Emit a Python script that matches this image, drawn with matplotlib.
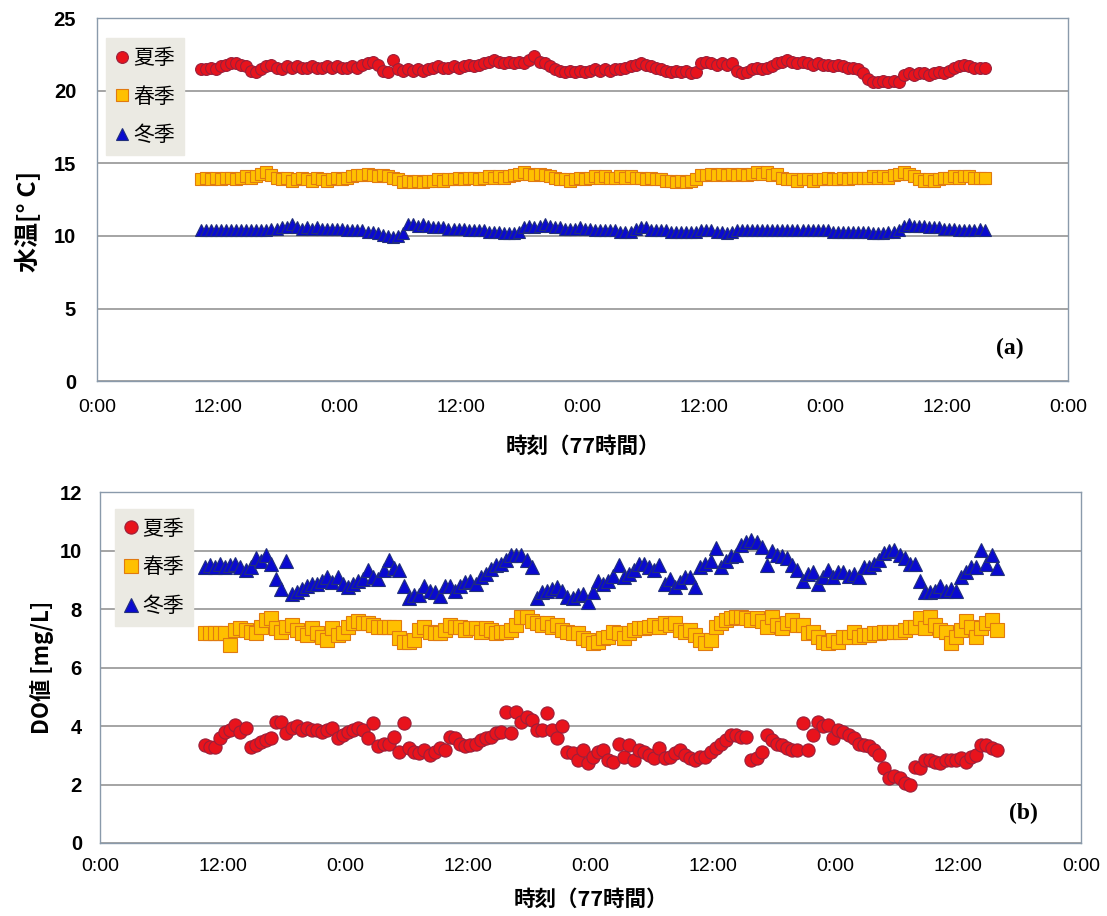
import numpy as np
import matplotlib
matplotlib.use("Agg")
import matplotlib.pyplot as plt

# Sampling: one reading every 30 minutes, starting 10:15 on day 1
START_HOUR = 10.25
STEP_HOUR = 0.5

# Water temperature [deg C]
temp_summer = [
    21.5, 21.5, 21.6, 21.5, 21.7,
    21.8, 21.9, 21.9, 21.8, 21.7,
    21.4, 21.3, 21.5, 21.7,
    21.8, 21.6, 21.5, 21.7,
    21.6, 21.7, 21.6, 21.6, 21.7, 21.6, 21.6, 21.7, 21.6, 21.7, 21.6, 21.6, 21.7, 21.6,
    21.8, 21.9, 22.0, 21.8,
    21.4, 21.3, 22.1, 21.5,
    21.4, 21.5, 21.4, 21.5, 21.4, 21.5,
    21.6, 21.7, 21.6, 21.6, 21.7, 21.6, 21.7, 21.8, 21.7, 21.8,
    21.9, 22.0, 22.1, 22.0, 21.9, 22.0, 21.9, 22.0, 21.9, 22.1,
    22.4, 22.0, 21.9, 21.7, 21.5, 21.4,
    21.3, 21.4, 21.3, 21.4, 21.3, 21.4, 21.5, 21.4, 21.5, 21.4, 21.5, 21.5,
    21.6, 21.7, 21.8, 21.9, 21.8, 21.7, 21.6, 21.5,
    21.4, 21.3, 21.4, 21.3, 21.4, 21.2, 21.3, 21.9,
    22.0, 21.9, 21.8, 21.9, 21.8, 21.9,
    21.4, 21.2, 21.3, 21.5, 21.6, 21.5,
    21.6, 21.7, 21.9, 22.0, 22.1, 22.0, 21.9, 22.0,
    21.9, 21.8, 21.9, 21.8, 21.8, 21.7, 21.8, 21.7, 21.6, 21.6, 21.5, 21.2,
    20.8, 20.6, 20.6, 20.7, 20.6, 20.7, 20.6,
    21.1, 21.2, 21.1, 21.2, 21.2, 21.1, 21.2, 21.3, 21.2,
    21.4, 21.6, 21.7, 21.8, 21.7, 21.6, 21.6, 21.6,
]
temp_spring = [
    13.9, 14.0, 13.9, 14.0, 13.9, 14.0, 14.0, 13.9, 14.0, 14.1, 14.0, 14.1,
    14.3, 14.4, 14.2, 14.0,
    13.9, 14.0, 13.8, 13.9, 14.0, 13.9, 13.8, 14.0, 13.9, 13.8, 13.9, 14.0, 13.9, 14.0,
    14.1, 14.2, 14.2, 14.3, 14.2, 14.1, 14.2, 14.1, 14.0, 13.9,
    13.7, 13.8, 13.7, 13.8, 13.7, 13.8, 13.8, 13.9, 13.8, 13.9,
    13.9, 14.0, 13.9, 14.0, 14.0, 13.9, 14.0, 14.1, 14.0, 14.1, 14.0, 14.1, 14.2, 14.3,
    14.4, 14.3, 14.2, 14.3, 14.2, 14.1, 14.0, 13.9,
    13.9, 13.8, 13.9, 14.0, 13.9, 14.0, 14.1, 14.0, 14.1, 14.0, 14.0, 14.1, 14.0, 14.1,
    14.0, 14.0, 13.9, 14.0, 13.9, 13.9, 13.8, 13.8,
    13.7, 13.8, 13.7, 13.8, 13.9, 14.2,
    14.2, 14.3, 14.2, 14.3, 14.2, 14.3, 14.2, 14.3, 14.2, 14.3, 14.4, 14.3, 14.4, 14.2, 14.3,
    14.0, 13.9, 13.9, 13.8, 13.9, 13.9, 13.8, 13.9, 13.9, 14.0, 13.9, 13.9, 14.0, 13.9,
    14.0, 14.0, 14.0,
    14.0, 14.1, 14.0, 14.1, 14.0, 14.2, 14.3, 14.4, 14.3,
    14.1, 13.9, 13.8, 13.9, 13.8, 13.9, 14.0,
    14.0, 14.1, 14.0, 14.1, 14.1, 14.0, 14.0, 14.0,
]
temp_winter = [
    10.4, 10.4, 10.4, 10.4, 10.4, 10.4, 10.4, 10.4, 10.4, 10.4, 10.4, 10.4, 10.4, 10.4,
    10.5, 10.5,
    10.6, 10.6, 10.8, 10.6, 10.5, 10.6, 10.5, 10.6,
    10.5, 10.5, 10.5, 10.5, 10.5, 10.4, 10.4, 10.4, 10.4, 10.3, 10.3, 10.2,
    10.1, 10.0, 9.9, 10.0, 10.2,
    10.8, 10.8, 10.7, 10.8, 10.7, 10.6,
    10.6, 10.6, 10.5, 10.5, 10.5, 10.5, 10.4, 10.4, 10.4, 10.4, 10.3, 10.3, 10.3, 10.2,
    10.2, 10.2, 10.3,
    10.6, 10.7, 10.6, 10.7, 10.8, 10.7, 10.6,
    10.6, 10.5, 10.5, 10.5, 10.6, 10.5, 10.5, 10.4, 10.4, 10.4, 10.4, 10.4, 10.3, 10.3,
    10.3, 10.5, 10.6, 10.6, 10.4, 10.4, 10.4, 10.4, 10.3, 10.3, 10.3, 10.3, 10.3, 10.3,
    10.4, 10.4, 10.4, 10.3, 10.3, 10.2, 10.3, 10.4, 10.4,
    10.4, 10.4, 10.4, 10.4, 10.4, 10.4, 10.4, 10.4, 10.4, 10.4, 10.4, 10.4, 10.4, 10.4,
    10.4, 10.4, 10.4, 10.3, 10.3, 10.3, 10.3, 10.3, 10.3, 10.3, 10.3, 10.2, 10.2, 10.2,
    10.3, 10.3, 10.4,
    10.7, 10.8, 10.7, 10.7, 10.7, 10.6,
    10.6, 10.6, 10.5, 10.5, 10.5, 10.4, 10.4, 10.4, 10.4, 10.5, 10.4,
]

# Dissolved oxygen [mg/L]
do_summer = [
    3.35, 3.29, 3.28, 3.59, 3.80, 3.85, 4.03, 3.80, 3.93, 3.29, 3.35, 3.46, 3.52, 3.58,
    4.15, 4.15, 3.75, 3.93, 3.99, 3.87, 3.93, 3.87, 3.87, 3.80, 3.85, 3.93, 3.58, 3.70,
    3.80, 3.87, 3.93, 3.87, 3.58, 4.10, 3.30, 3.40, 3.40, 3.64, 3.12,
    4.10, 3.24, 3.12, 3.07, 3.18, 3.00, 3.12, 3.24, 3.18, 3.64, 3.58, 3.40, 3.30, 3.35,
    3.40, 3.52, 3.58, 3.64, 3.75, 3.80, 4.49, 3.75, 4.49, 4.15, 4.32, 4.20, 3.87, 3.87,
    4.44, 3.87, 3.58, 3.99, 3.12, 3.07, 2.84, 3.18, 2.72, 2.95, 3.12, 3.18,
    2.84, 2.78, 3.40, 2.95, 3.35, 2.84, 3.18, 3.12, 3.00, 2.90, 3.24, 2.90, 2.95, 3.07,
    3.18, 3.00, 2.90, 2.84, 2.95, 2.95, 3.12, 3.24, 3.40, 3.52, 3.70, 3.70, 3.64, 3.64,
    2.84, 2.90, 3.12, 3.70, 3.52, 3.40, 3.35, 3.24, 3.18, 3.18,
    4.10, 3.18, 3.70, 4.15, 3.99, 4.04, 3.58, 3.87, 3.80, 3.70, 3.58, 3.40, 3.35, 3.30,
    3.18, 3.00, 2.56, 2.22, 2.28, 2.22, 2.05, 2.00, 2.61, 2.56, 2.84, 2.84, 2.78, 2.73,
    2.84, 2.84, 2.84, 2.90, 2.78, 2.95, 3.00, 3.35, 3.35, 3.24, 3.18,
]
do_spring = [
    7.17, 7.17, 7.17, 7.17, 7.17, 6.77, 7.29, 7.35, 7.29, 7.23, 7.17, 7.40, 7.63, 7.68,
    7.35, 7.23, 7.40, 7.46, 7.29, 7.17, 7.12, 7.35, 7.17, 7.06, 6.94, 7.35, 7.12, 7.17,
    7.40, 7.52, 7.58, 7.52, 7.52, 7.46, 7.40, 7.40, 7.40,
    7.40, 7.00, 6.88, 6.88, 6.94, 7.29, 7.40, 7.23, 7.17, 7.17, 7.29, 7.46, 7.40, 7.40,
    7.29, 7.35, 7.35, 7.23, 7.35, 7.29, 7.17, 7.23, 7.23, 7.29, 7.46, 7.74, 7.74, 7.58,
    7.52, 7.46, 7.52, 7.40, 7.46, 7.29, 7.23, 7.17, 7.17, 7.00, 6.94, 6.83, 6.88,
    7.00, 7.06, 7.23, 7.17, 7.00, 7.17, 7.29, 7.35, 7.35, 7.40, 7.46, 7.40, 7.52, 7.46,
    7.52, 7.29, 7.23, 7.29, 7.12, 6.94, 6.83, 6.94, 7.40, 7.52, 7.63, 7.68, 7.74, 7.74,
    7.68, 7.63, 7.68, 7.58, 7.40, 7.74, 7.46, 7.35, 7.52, 7.63, 7.46, 7.46, 7.17,
    7.23, 7.06, 6.88, 6.83, 6.94, 6.88, 7.06, 7.06, 7.23, 7.06, 7.12, 7.12, 7.17, 7.17,
    7.23, 7.23, 7.23, 7.23, 7.29, 7.40, 7.40, 7.68, 7.35, 7.74, 7.46, 7.29, 7.23, 6.83,
    7.06, 7.29, 7.58, 7.40, 7.06, 7.35, 7.52, 7.63, 7.29,
]
do_winter = [
    9.45, 9.50, 9.45, 9.55, 9.45, 9.50, 9.55, 9.45, 9.34, 9.45, 9.74, 9.63, 9.85, 9.55,
    9.03, 8.69, 9.63, 8.50, 8.60, 8.69, 8.80, 8.86, 8.86, 8.97, 9.09, 8.92, 9.09, 8.86,
    8.74, 8.86, 8.97, 9.03, 9.34, 9.09, 9.03, 9.34, 9.68,
    9.40, 9.34, 8.80, 8.37, 8.48, 8.48, 8.80, 8.63, 8.57, 8.46, 8.80, 8.80, 8.63, 8.80,
    8.92, 8.97, 8.86, 9.09, 9.20, 9.37, 9.50, 9.55, 9.67, 9.85, 9.85, 9.85, 9.67, 9.45,
    8.37, 8.60, 8.63, 8.69, 8.74, 8.63, 8.40, 8.37, 8.48, 8.50, 8.23, 8.57, 8.97,
    8.86, 8.97, 9.14, 9.50, 9.09, 9.20, 9.34, 9.55, 9.55, 9.45, 9.34, 9.50, 8.86, 9.03,
    8.74, 8.92, 9.09, 9.09, 8.74, 9.45, 9.55, 9.63, 10.08, 9.45, 9.63, 9.80, 9.85, 10.19,
    10.30, 10.35, 10.30, 10.13, 9.50, 9.97, 9.85, 9.80, 9.74, 9.50, 9.34, 8.97,
    9.20, 9.26, 8.86, 9.09, 9.34, 9.09, 9.26, 9.26, 9.14, 9.20, 9.09, 9.45, 9.45, 9.55,
    9.67, 9.91, 9.97, 10.03, 9.85, 9.74, 9.55, 9.55, 8.97, 8.57, 8.57, 8.63, 8.80, 8.63,
    8.69, 8.63, 9.09, 9.26, 9.45, 9.45, 10.03, 9.55, 9.85, 9.40,
]

season_labels = ["夏季", "春季", "冬季"]
x_tick_hours = [0, 12, 24, 36, 48, 60, 72, 84, 96]
x_tick_labels = ["0:00", "12:00", "0:00", "12:00", "0:00", "12:00", "0:00", "12:00", "0:00"]

JP = ["Noto Sans CJK JP", "DejaVu Sans"]

season_styles = [
    dict(marker="o", mfc="#e8131c", mec="#9a1f3a"),
    dict(marker="s", mfc="#ffc000", mec="#e07a10"),
    dict(marker="^", mfc="#0a0ad0", mec="#22307a"),
]


def hours_for(values):
    return START_HOUR + STEP_HOUR * np.arange(len(values))


def style_axes(ax, ymax, ystep, ylabel, ylabel_size, tag, tag_xy, legend_xy,
               ylabelpad, xpad, ypad, xlabelpad):
    ax.set_xlim(0, 96)
    ax.set_ylim(0, ymax)
    ax.set_xticks(x_tick_hours)
    ax.set_xticklabels(x_tick_labels, fontfamily="Liberation Sans", fontsize=14)
    yt = np.arange(0, ymax + 0.01, ystep)
    ax.set_yticks(yt)
    ax.set_yticklabels([f"{v:g}" for v in yt], fontfamily="Liberation Sans",
                       fontsize=14.5, fontweight="bold")
    ax.tick_params(axis="x", length=0, pad=xpad)
    ax.tick_params(axis="y", length=0, pad=ypad)
    ax.grid(axis="y", color="#8c8c8c", linewidth=1.1)
    ax.set_axisbelow(True)
    for sp in ax.spines.values():
        sp.set_color("#8a9aab")
        sp.set_linewidth(1.0)
    ax.set_xlabel("時刻（77時間）", fontfamily=JP, fontsize=15.5, fontweight="bold",
                  labelpad=xlabelpad)
    ax.set_ylabel(ylabel, fontfamily=JP, fontsize=ylabel_size, fontweight="bold",
                  labelpad=ylabelpad)
    ax.text(tag_xy[0], tag_xy[1], tag, transform=ax.transAxes,
            fontfamily="Liberation Serif", fontsize=17, fontweight="bold",
            ha="center", va="center")
    leg = ax.legend(loc="upper left", bbox_to_anchor=legend_xy, borderaxespad=0,
                    frameon=True, fancybox=False, framealpha=1,
                    prop={"family": JP, "size": 15}, handlelength=0.7,
                    handletextpad=0.2, labelspacing=0.8, borderpad=0.42,
                    markerscale=1.0)
    leg.get_frame().set_facecolor("#ebeae3")
    leg.get_frame().set_edgecolor("#ebeae3")


fig = plt.figure(figsize=(11.07, 9.16), dpi=100)
ax_t = fig.add_axes([0.0876, 0.584, 0.8772, 0.396])
ax_d = fig.add_axes([0.0903, 0.0797, 0.8862, 0.3831])

for values, label, st in zip([temp_summer, temp_spring, temp_winter], season_labels, season_styles):
    ax_t.plot(hours_for(values), values, linestyle="none", ms=8.5, mew=0.8,
              label=label, **st)

for values, label, st in zip([do_summer, do_spring, do_winter], season_labels, season_styles):
    ax_d.plot(hours_for(values), values, linestyle="none", ms=9.5, mew=0.8,
              label=label, **st)

style_axes(ax_t, 25, 5, "水温[° C]", 18, "(a)", (0.940, 0.091), (0.0093, 0.945),
           ylabelpad=8, xpad=13, ypad=15, xlabelpad=14)
style_axes(ax_d, 12, 2, "DO値 [mg/L]", 16, "(b)", (0.941, 0.085), (0.0153, 0.952),
           ylabelpad=4, xpad=11, ypad=13, xlabelpad=10)
# the temperature label sits a little below the middle of its axis
ax_t.yaxis.set_label_coords(-0.058, 0.44)

fig.savefig("out.png", dpi=100, facecolor="white")
